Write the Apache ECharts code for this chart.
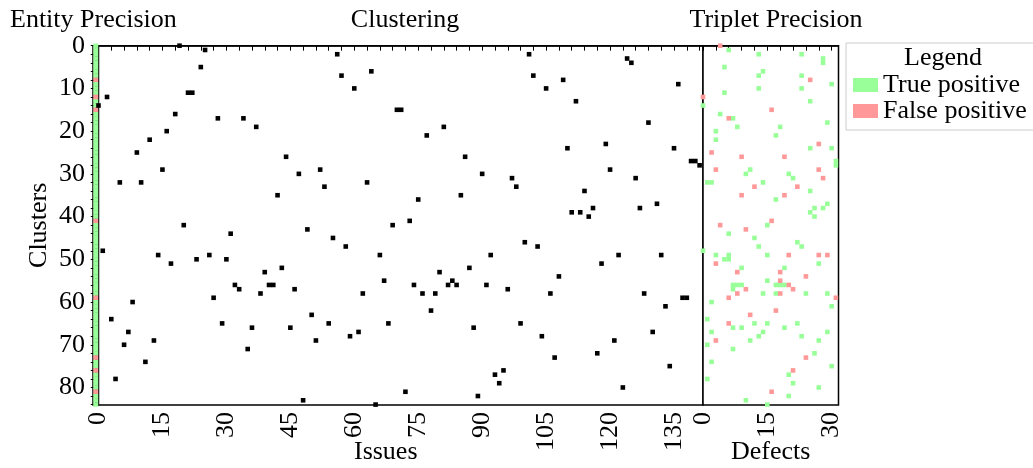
<!DOCTYPE html>
<html>
<head>
<meta charset="utf-8">
<script src="https://cdn.jsdelivr.net/npm/echarts@6/dist/echarts.min.js"></script>
<style>html,body{margin:0;padding:0;background:#fff}</style>
</head>
<body>
<div id="chart" style="width:1033px;height:468px"></div>
<script>
// cluster of every issue, index = issue number
var issueClusters = [14,48,12,64,78,32,70,67,60,25, 32,74,22,69,49,29,20,51,16,0,
  42,11,11,50,5,1,49,59,17,65, 50,44,56,57,17,71,66,19,58,53,
  56,56,35,52,26,66,57,30,83,43, 63,69,29,33,65,45,2,7,47,68,
  10,67,58,32,6,84,49,55,65,42, 15,15,81,41,56,36,58,21,62,58,
  53,19,56,55,56,35,26,52,66,82, 30,56,49,77,79,76,57,31,33,65,
  46,2,7,47,68,10,58,73,54,8, 24,39,13,39,34,40,38,72,51,23,
  29,69,49,80,3,4,31,38,58,18, 67,37,49,61,75,24,9,59,59,27,
  27,28]
var clusterCount = 85
// entity precision: clusters marked false, the rest true
var entityFalse = [8,12,15,41,59,73,76,81]
// triplet precision cells: [defect, cluster]
var tripletTrue = [[6,1],[13,2],[23,2],[28,3],[28,4],[5,5],[14,6],[13,7],[23,7],[30,9],
  [13,10],[23,10],[5,11],[25,13],[0,14],[4,16],[7,17],[29,18],[8,19],[18,19],
  [3,20],[17,21],[3,22],[25,24],[30,24],[31,27],[31,28],[11,29],[10,30],[20,30],
  [21,31],[1,32],[2,32],[14,32],[25,34],[17,36],[29,37],[26,38],[28,38],[25,39],
  [26,40],[15,42],[6,44],[12,45],[22,46],[13,47],[23,47],[0,48],[3,49],[6,49],
  [15,49],[5,50],[6,50],[27,51],[9,52],[19,52],[15,55],[7,56],[8,56],[9,56],
  [7,57],[17,56],[18,56],[19,56],[14,58],[17,58],[24,58],[29,58],[2,60],[30,61],
  [1,64],[12,65],[15,65],[22,65],[7,66],[9,66],[19,66],[2,67],[14,67],[29,67],
  [13,68],[23,68],[11,69],[27,69],[1,70],[7,71],[26,72],[2,74],[30,75],[20,77],
  [1,78],[21,79],[27,80],[20,82],[10,83],[15,84]]
var tripletFalse = [[4,0],[25,8],[0,12],[16,15],[6,17],[27,23],[2,25],[9,26],[19,26],[3,29],
  [27,29],[28,31],[12,33],[22,33],[9,35],[19,35],[16,41],[4,42],[10,43],[20,49],
  [27,49],[29,49],[3,51],[8,53],[18,53],[24,54],[18,55],[10,57],[20,56],[21,57],
  [8,58],[18,58],[6,59],[31,59],[17,62],[11,63],[6,65],[3,69],[24,73],[21,76],
  [16,81]]

var FONT = 'Liberation Serif'
var GREEN = '#99ff99'
var RED = '#ff9999'
var TOP = 45.7, HEIGHT = 359.3

var entityTrue = [], entityBad = []
for (var c = 0; c < clusterCount; c++) {
  if (entityFalse.indexOf(c) >= 0) entityBad.push([0, c])
  else entityTrue.push([0, c])
}

var chart = echarts.init(document.getElementById('chart'))

var txt = { fontFamily: FONT, fontSize: 26, color: '#000', fontWeight: 'normal' }
function gridBox(left, width) {
  return { left: left, width: width, top: TOP, height: HEIGHT, show: true,
    borderColor: '#000', borderWidth: 1.5, backgroundColor: '#fff', outerBoundsMode: 'none' }
}
function tenLabel(v) { return v % 15 === 0 ? String(v) : '' }

chart.setOption({
  animation: false,
  title: [
    { text: 'Entity Precision', left: 5, top: 2, textStyle: txt },
    { text: 'Clustering', left: 400, top: 2, textAlign: 'center', textStyle: txt },
    { text: 'Triplet Precision', left: 771, top: 2, textAlign: 'center', textStyle: txt },
    { text: 'Legend', left: 938, top: 40, textAlign: 'center', textStyle: txt }
  ],
  legend: {
    data: ['True positive', 'False positive'],
    orient: 'vertical',
    left: 846, top: 43,
    padding: [29, 8, 6, 7],
    itemWidth: 25, itemHeight: 14, itemGap: 0,
    icon: 'rect',
    borderColor: '#ccc', borderWidth: 1,
    itemStyle: { opacity: 1 },
    textStyle: Object.assign({ lineHeight: 26 }, txt)
  },
  grid: [gridBox(93, 5.5), gridBox(98.5, 604.5), gridBox(703, 135.5)],
  xAxis: [
    { gridIndex: 0, type: 'value', min: -0.5, max: 0.5, show: false },
    {
      gridIndex: 1, type: 'value', min: 0, max: 141.8, interval: 3,
      name: 'Issues', nameLocation: 'middle', nameGap: 34, nameMoveOverlap: false,
      nameTextStyle: Object.assign({ padding: [0, 30, 0, 0] }, txt),
      axisLine: { lineStyle: { color: '#000', width: 1.5 } },
      axisTick: { length: 5, lineStyle: { color: '#000' } },
      axisLabel: Object.assign({ rotate: 90, margin: 7, formatter: tenLabel, showMaxLabel: false }, txt),
      splitLine: { show: false }
    },
    {
      gridIndex: 2, type: 'value', min: 0, max: 31.6, interval: 3,
      name: 'Defects', nameLocation: 'middle', nameGap: 34, nameMoveOverlap: false,
      nameTextStyle: txt,
      axisLine: { lineStyle: { color: '#000', width: 1.5 } },
      axisTick: { length: 5, lineStyle: { color: '#000' } },
      axisLabel: Object.assign({ rotate: 90, margin: 7, formatter: tenLabel, showMaxLabel: false }, txt),
      splitLine: { show: false }
    }
  ],
  yAxis: [
    {
      gridIndex: 0, type: 'value', inverse: true, min: 0, max: 84.1, interval: 2,
      name: 'Clusters', nameLocation: 'middle', nameGap: 41, nameMoveOverlap: false,
      nameTextStyle: txt,
      axisLine: { lineStyle: { color: '#000', width: 1.5 } },
      axisTick: { length: 5, lineStyle: { color: '#000' } },
      axisLabel: Object.assign({ margin: 8, showMaxLabel: false,
        formatter: function (v) { return v % 10 === 0 ? String(v) : '' } }, txt),
      splitLine: { show: false }
    },
    { gridIndex: 1, type: 'value', inverse: true, min: 0, max: 84.1, show: false },
    { gridIndex: 2, type: 'value', inverse: true, min: 0, max: 84.1, show: false }
  ],
  series: [
    { name: 'True positive', type: 'scatter', xAxisIndex: 0, yAxisIndex: 0, symbol: 'rect',
      symbolSize: [5, 4.4], itemStyle: { color: GREEN, opacity: 1 }, data: entityTrue, silent: true },
    { name: 'False positive', type: 'scatter', xAxisIndex: 0, yAxisIndex: 0, symbol: 'rect',
      symbolSize: [5, 4.4], itemStyle: { color: RED, opacity: 1 }, data: entityBad, silent: true },
    { name: 'Clustering', type: 'scatter', xAxisIndex: 1, yAxisIndex: 1, symbol: 'rect',
      symbolSize: 4.6, itemStyle: { color: '#000', opacity: 1 }, silent: true,
      data: issueClusters.map(function (c, i) { return [i, c] }) },
    { name: 'True positive', type: 'scatter', xAxisIndex: 2, yAxisIndex: 2, symbol: 'rect',
      symbolSize: 4.6, itemStyle: { color: GREEN, opacity: 1 }, data: tripletTrue, silent: true },
    { name: 'False positive', type: 'scatter', xAxisIndex: 2, yAxisIndex: 2, symbol: 'rect',
      symbolSize: 4.6, itemStyle: { color: RED, opacity: 1 }, data: tripletFalse, silent: true }
  ]
})
</script>
</body>
</html>
